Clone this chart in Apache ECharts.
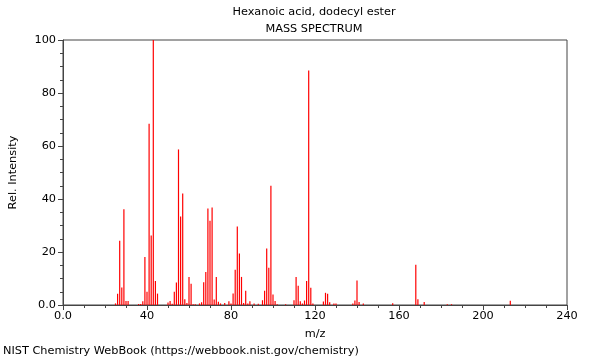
<!DOCTYPE html>
<html>
<head>
<meta charset="utf-8">
<script src="https://cdn.jsdelivr.net/npm/echarts@6/dist/echarts.min.js"></script>
<style>html,body{margin:0;padding:0;background:#fff}#c{width:600px;height:360px}</style>
</head>
<body>
<div id="c"></div>
<script>
const titleText = "Hexanoic acid, dodecyl ester";
const subtitleText = "MASS SPECTRUM";
const footerText = "NIST Chemistry WebBook (https://webbook.nist.gov/chemistry)";
const xName = "m/z";
const yName = "Rel. Intensity";
const mz = [25,26,27,28,29,30,31,36,37,38,39,40,41,42,43,44,45,
  50,51,52,53,54,55,56,57,58,59,60,61,62,63,65,66,67,68,69,70,71,72,73,74,75,77,79,80,81,82,83,84,85,86,87,88,89,91,93,
  95,96,97,98,99,100,101,102,106,110,111,112,113,114,115,116,117,118,119,124,125,126,127,129,130,
  138,139,140,141,143,157,168,169,172,183,185,213];
const intensity = [0.6,4.2,24.2,6.6,36.1,1.5,1.5,0.4,0.4,1.4,18.1,5.0,68.4,26.2,100,9.1,4.3,
  0.9,1.5,0.5,5.0,8.5,58.7,33.4,42.1,2.2,0.8,10.6,8.0,0.3,0.3,0.6,1.0,8.6,12.5,36.4,31.8,36.8,2.1,10.6,1.2,0.6,0.8,1.4,0.6,4.3,13.3,29.6,19.4,10.6,0.8,5.4,0.6,1.4,0.6,0.5,
  1.8,5.4,21.3,14.1,45.0,4.0,1.5,0.3,0.3,1.8,10.6,7.3,1.4,0.6,1.7,9.1,88.5,6.5,0.6,1.3,4.6,4.2,1.0,0.6,0.6,
  0.6,1.7,9.2,1.1,0.6,0.7,15.2,2.2,1.1,0.3,0.3,1.6];
const xTicks = [0,40,80,120,160,200,240];
const yTicks = [0,20,40,60,80,100];

const data = mz.map((m,i)=>[m,intensity[i]]);
const chart = echarts.init(document.getElementById('c'));
const font = "DejaVu Sans";
const axisColor = "#444";
const ts = {fontFamily:font,fontSize:11.3,fontWeight:'normal',color:'#000'};
chart.setOption({
  animation:false,
  backgroundColor:'#fff',
  textStyle:{fontFamily:font},
  title:[
    {text:titleText,left:314,top:7,padding:0,textAlign:'center',textStyle:ts},
    {text:subtitleText,left:314,top:24,padding:0,textAlign:'center',textStyle:ts},
    {text:footerText,left:3,top:346,padding:0,textStyle:ts}
  ],
  grid:{left:62,right:33,top:40,bottom:55,show:true,borderColor:axisColor,borderWidth:1,backgroundColor:'transparent'},
  xAxis:{
    type:'value',min:xTicks[0],max:xTicks[xTicks.length-1],interval:40,
    name:xName,nameLocation:'middle',nameGap:24,nameTextStyle:{fontFamily:font,fontSize:11.3,color:'#000'},
    axisLine:{show:true,onZero:false,lineStyle:{color:axisColor}},
    axisTick:{show:true,length:5,lineStyle:{color:axisColor}},
    minorTick:{show:true,splitNumber:4,length:3,lineStyle:{color:axisColor}},
    axisLabel:{fontFamily:font,fontSize:11.3,color:'#000',margin:6,formatter:v=>v===0?'0.0':String(v)},
    splitLine:{show:false}
  },
  yAxis:{
    type:'value',min:yTicks[0],max:yTicks[yTicks.length-1],interval:20,
    name:yName,nameLocation:'middle',nameGap:44,nameTextStyle:{fontFamily:font,fontSize:11.3,color:'#000'},
    axisLine:{show:true,lineStyle:{color:axisColor}},
    axisTick:{show:true,length:5,lineStyle:{color:axisColor}},
    minorTick:{show:true,splitNumber:4,length:3,lineStyle:{color:axisColor}},
    axisLabel:{fontFamily:font,fontSize:11.3,color:'#000',margin:7,formatter:v=>v===0?'0.0':String(v)},
    splitLine:{show:false}
  },
  series:[{type:'bar',data:data,barWidth:1.2,itemStyle:{color:'#ff0000'},silent:true}]
});
</script>
</body>
</html>
